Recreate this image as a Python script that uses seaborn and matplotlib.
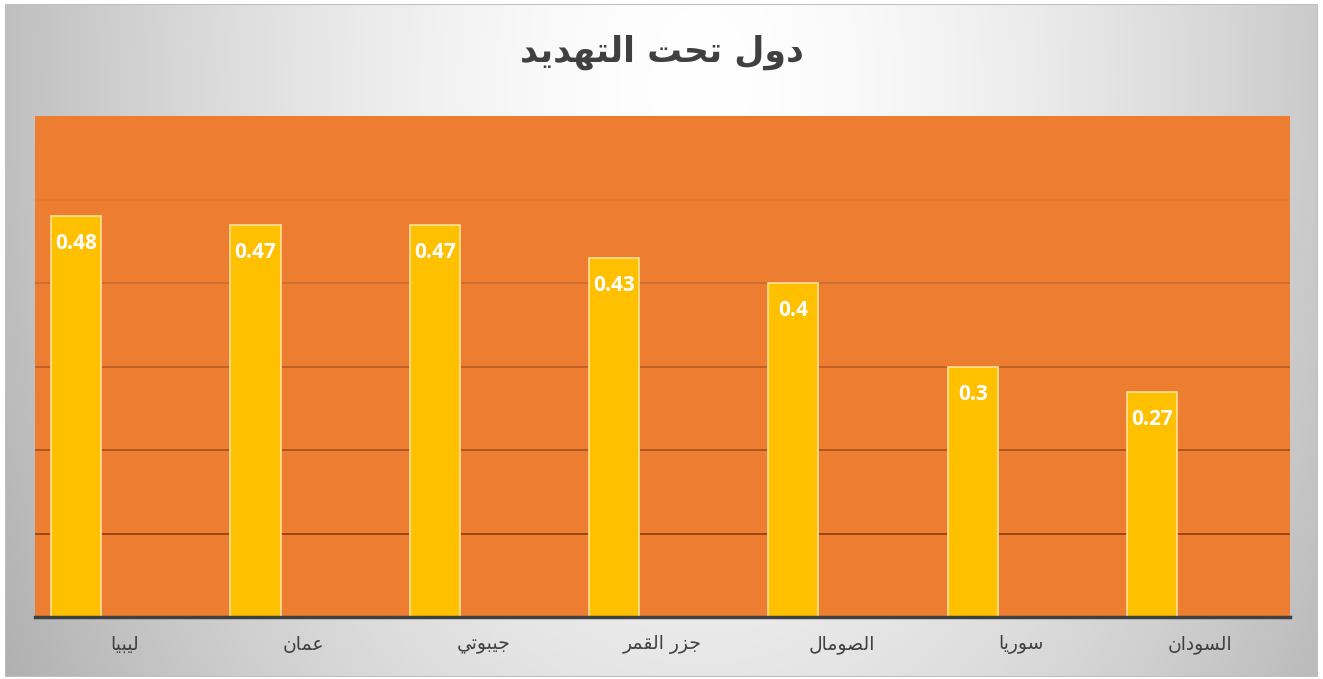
import numpy as np
import pandas as pd
import matplotlib
matplotlib.use('Agg')
import matplotlib.pyplot as plt
from matplotlib.patches import Rectangle
import seaborn as sns

# data
title = 'دول تحت التهديد'
countries = ['ليبيا', 'عمان', 'جيبوتي', 'جزر القمر', 'الصومال', 'سوريا', 'السودان']
values = [0.48, 0.47, 0.47, 0.43, 0.40, 0.30, 0.27]
y_max = 0.6
grid_levels = [0.1, 0.2, 0.3, 0.4, 0.5]

sns.set_style('white')
plt.rcParams['font.family'] = ['DejaVu Sans']

# matplotlib does no Arabic shaping, so map letters to their
# presentation forms (isolated, final, initial, medial) and reverse
FORMS = {
    'ا': ('\uFE8D', '\uFE8E', None, None),
    'ب': ('\uFE8F', '\uFE90', '\uFE91', '\uFE92'),
    'ت': ('\uFE95', '\uFE96', '\uFE97', '\uFE98'),
    'ج': ('\uFE9D', '\uFE9E', '\uFE9F', '\uFEA0'),
    'ح': ('\uFEA1', '\uFEA2', '\uFEA3', '\uFEA4'),
    'د': ('\uFEA9', '\uFEAA', None, None),
    'ر': ('\uFEAD', '\uFEAE', None, None),
    'ز': ('\uFEAF', '\uFEB0', None, None),
    'س': ('\uFEB1', '\uFEB2', '\uFEB3', '\uFEB4'),
    'ص': ('\uFEB9', '\uFEBA', '\uFEBB', '\uFEBC'),
    'ع': ('\uFEC9', '\uFECA', '\uFECB', '\uFECC'),
    'ق': ('\uFED5', '\uFED6', '\uFED7', '\uFED8'),
    'ل': ('\uFEDD', '\uFEDE', '\uFEDF', '\uFEE0'),
    'م': ('\uFEE1', '\uFEE2', '\uFEE3', '\uFEE4'),
    'ن': ('\uFEE5', '\uFEE6', '\uFEE7', '\uFEE8'),
    'ه': ('\uFEE9', '\uFEEA', '\uFEEB', '\uFEEC'),
    'و': ('\uFEED', '\uFEEE', None, None),
    'ي': ('\uFEF1', '\uFEF2', '\uFEF3', '\uFEF4'),
}


def joins_left(c):
    return c in FORMS and FORMS[c][2] is not None


def shape(text):
    out = []
    for i, c in enumerate(text):
        if c not in FORMS:
            out.append(c)
            continue
        prev = text[i - 1] if i > 0 else ''
        nxt = text[i + 1] if i < len(text) - 1 else ''
        jp = joins_left(prev)
        jn = joins_left(c) and nxt in FORMS
        iso, fin, ini, med = FORMS[c]
        if jp and jn:
            out.append(med)
        elif jp:
            out.append(fin)
        elif jn:
            out.append(ini)
        else:
            out.append(iso)
    return ''.join(reversed(out))


W, H = 1323, 679
fig = plt.figure(figsize=(W / 100, H / 100), dpi=100)
fig.patch.set_facecolor('white')

# background gradient panel
bg = fig.add_axes([5 / W, 2 / H, 1313 / W, 673 / H], zorder=-5)
gx, gy = np.meshgrid(np.linspace(0, 1, 400), np.linspace(0, 1, 200))
u = (gx - 0.53) / 0.5
v = (gy - 0.12) / 1.5
r = np.sqrt(u ** 2 + v ** 2)
shade = np.clip(255 - 58 * np.clip(r, 0, 1.3) ** 1.6, 0, 255) / 255
bg.imshow(np.dstack([shade, shade, shade]), aspect='auto', extent=(0, 1, 0, 1),
          origin='upper')
bg.add_patch(Rectangle((0, 0), 1, 1, fill=False, edgecolor='#BFBFBF', lw=1.5,
                       transform=bg.transAxes))
bg.set_axis_off()

ax = fig.add_axes([35 / W, 62 / H, 1255 / W, 501 / H])
ax.set_facecolor('#ED7D31')

df = pd.DataFrame({'country': [shape(c) for c in countries], 'value': values})
sns.barplot(data=df, x='country', y='value', color='#FFC000', saturation=1,
            width=0.28, edgecolor='#FFE29A', linewidth=1.2, ax=ax, zorder=3)

# bars sit left of the category centre
for p in ax.patches:
    p.set_x(p.get_x() - 0.27)

grid_colors = ['#9A4612', '#AE551E', '#BF6128', '#D06E30', '#E27A34']
for level, col in zip(grid_levels, grid_colors):
    ax.axhline(level, color=col, lw=1.4, zorder=1)

for p, val in zip(ax.patches, values):
    ax.annotate(f'{val:g}', (p.get_x() + p.get_width() / 2, p.get_height()),
                xytext=(0, -20), textcoords='offset points', ha='center',
                va='center', color='white', fontsize=15, fontweight='bold',
                family=['Open Sans', 'DejaVu Sans'], zorder=5)

ax.set_xlim(-0.5, len(countries) - 0.5)
ax.set_ylim(0, y_max)
ax.set_xlabel('')
ax.set_ylabel('')
ax.set_yticks([])
ax.tick_params(axis='x', length=0, pad=13, labelsize=13.5, colors='#404040')
for s in ['top', 'left', 'right']:
    ax.spines[s].set_visible(False)
ax.spines['bottom'].set_color('#404040')
ax.spines['bottom'].set_linewidth(2.5)
ax.spines['bottom'].set_zorder(6)

fig.text(0.5, 1 - 52 / H, shape(title), ha='center', va='center', fontsize=25,
         fontweight='bold', color='#404040')

fig.savefig('out.png', dpi=100)
